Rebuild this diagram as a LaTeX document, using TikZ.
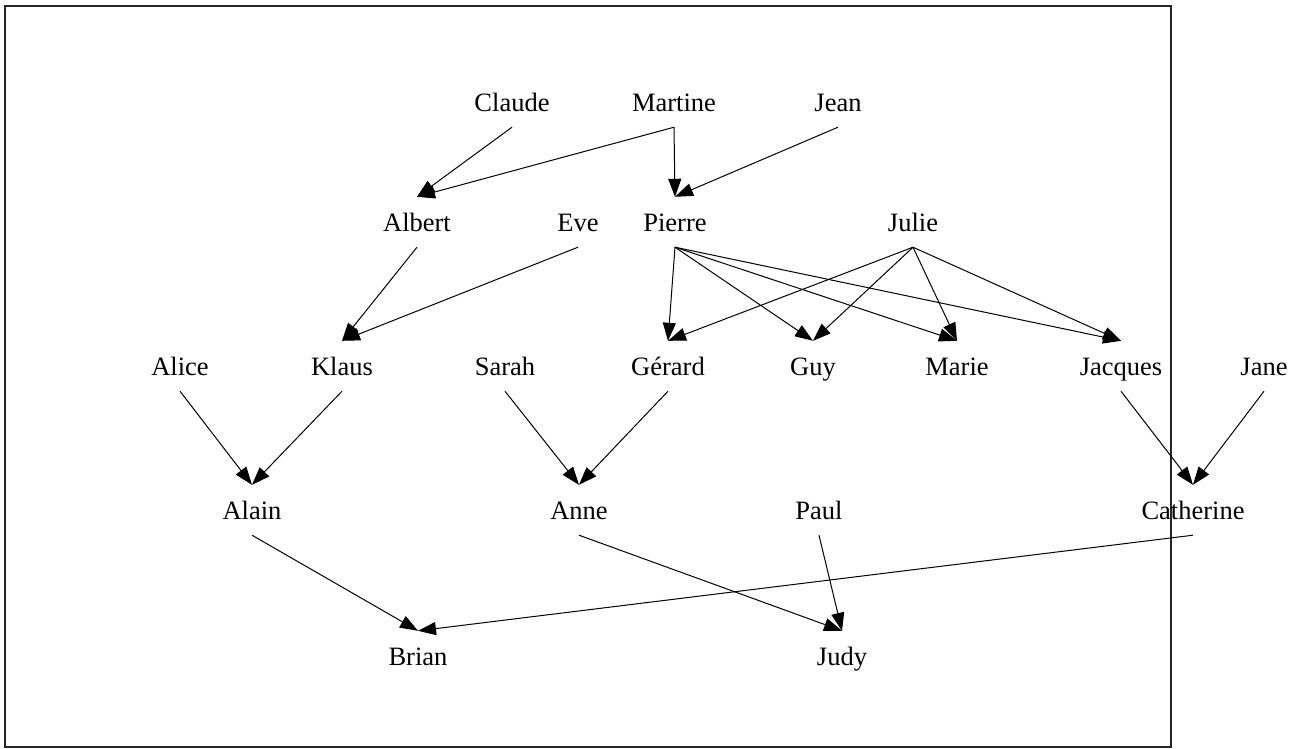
\documentclass[tikz,border=0pt]{standalone}
\usepackage{fontspec}
\setmainfont{Liberation Serif}
\usetikzlibrary{arrows.meta}
\begin{document}
\begin{tikzpicture}[x=1pt,y=-1pt,
  person/.style={inner sep=0pt, minimum height=50pt, text height=21pt, text depth=3pt,
    font=\fontsize{26.5pt}{30pt}\selectfont},
  rel/.style={-{Triangle[length=18pt,width=13pt]}, line width=1pt},
  frame/.style={draw=black!85, line width=1.2pt}]
\useasboundingbox (0,0) rectangle (1302,748);
\draw[frame] (5,6) rectangle (1171,747);
% row 1
\node[person] (claude)  at (512,102) {Claude};
\node[person] (martine) at (674,102) {Martine};
\node[person] (jean)    at (838,102) {Jean};
% row 2
\node[person] (albert)  at (417,222) {Albert};
\node[person] (eve)     at (578,222) {Eve};
\node[person] (pierre)  at (675,222) {Pierre};
\node[person] (julie)   at (913,222) {Julie};
% row 3
\node[person] (alice)   at (180,366) {Alice};
\node[person] (klaus)   at (342,366) {Klaus};
\node[person] (sarah)   at (505,366) {Sarah};
\node[person] (gerard)  at (668,366) {Gérard};
\node[person] (guy)     at (813,366) {Guy};
\node[person] (marie)   at (957,366) {Marie};
\node[person] (jacques) at (1121,366) {Jacques};
\node[person] (jane)    at (1264,366) {Jane};
% row 4
\node[person] (alain)   at (252,510) {Alain};
\node[person] (anne)    at (579,510) {Anne};
\node[person] (paul)    at (819,510) {Paul};
\node[person] (catherine) at (1193,510) {Catherine};
% row 5
\node[person] (brian)   at (418,656) {Brian};
\node[person] (judy)    at (842,656) {Judy};
% edges
\draw[rel] (claude.south)  -- (albert.north);
\draw[rel] (martine.south) -- (albert.north);
\draw[rel] (martine.south) -- (pierre.north);
\draw[rel] (jean.south)    -- (pierre.north);
\draw[rel] (albert.south)  -- (klaus.north);
\draw[rel] (eve.south)     -- (klaus.north);
\draw[rel] (pierre.south)  -- (gerard.north);
\draw[rel] (pierre.south)  -- (guy.north);
\draw[rel] (pierre.south)  -- (marie.north);
\draw[rel] (pierre.south)  -- (jacques.north);
\draw[rel] (julie.south)   -- (gerard.north);
\draw[rel] (julie.south)   -- (guy.north);
\draw[rel] (julie.south)   -- (marie.north);
\draw[rel] (julie.south)   -- (jacques.north);
\draw[rel] (alice.south)   -- (alain.north);
\draw[rel] (klaus.south)   -- (alain.north);
\draw[rel] (sarah.south)   -- (anne.north);
\draw[rel] (gerard.south)  -- (anne.north);
\draw[rel] (jacques.south) -- (catherine.north);
\draw[rel] (jane.south)    -- (catherine.north);
\draw[rel] (alain.south)   -- (brian.north);
\draw[rel] (catherine.south) -- (brian.north);
\draw[rel] (anne.south)    -- (judy.north);
\draw[rel] (paul.south)    -- (judy.north);
\end{tikzpicture}
\end{document}
